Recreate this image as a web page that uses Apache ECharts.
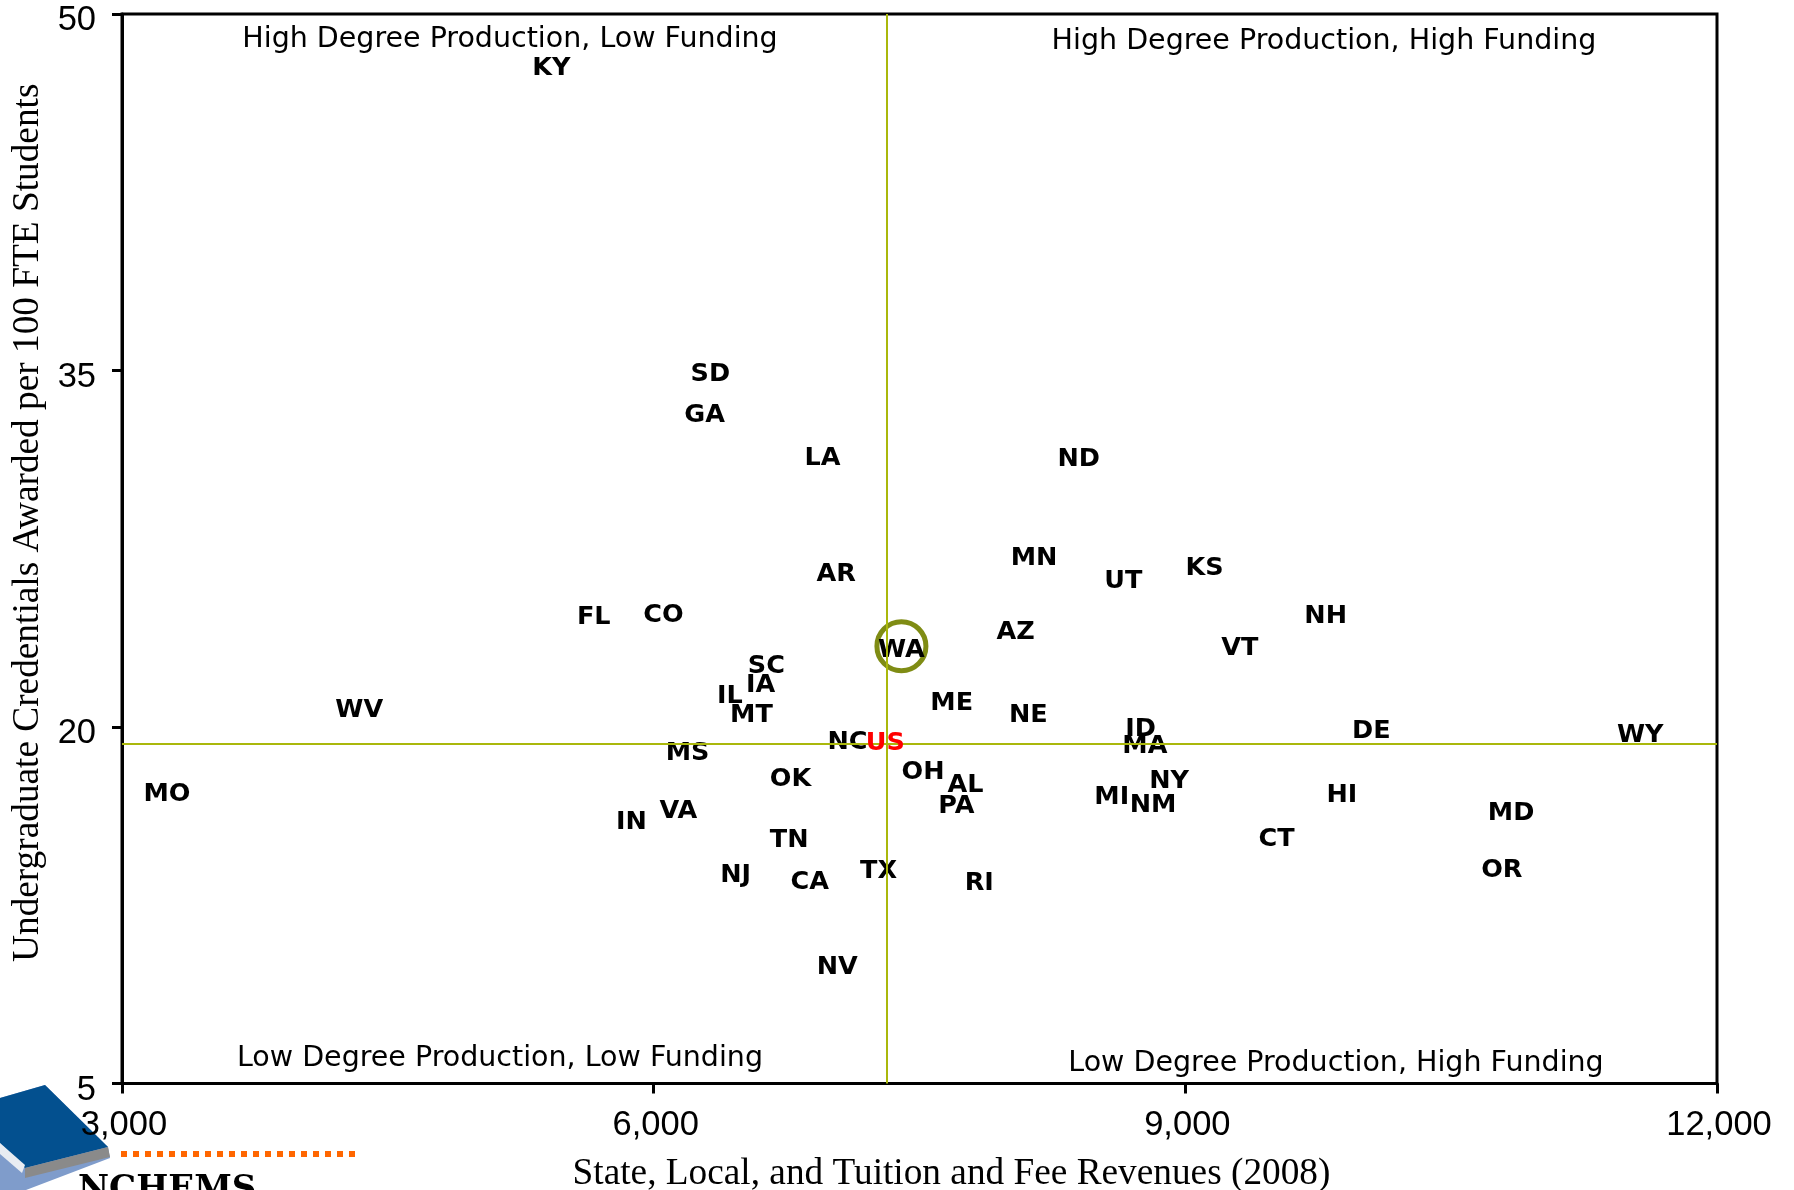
<!DOCTYPE html>
<html><head><meta charset="utf-8">
<style>html,body{margin:0;padding:0;background:#fff}#c{width:1794px;height:1190px}</style>
<script src="https://cdn.jsdelivr.net/npm/echarts@6/dist/echarts.min.js"></script>
</head><body><div id="c"></div>
<script>
const states=["KY","SD","GA","LA","ND","MN","KS","UT","AR","NH","FL","CO","AZ","VT","WA","SC","IA","IL","MT","ME","NE","WV","ID","DE","WY","MA","NC","MS","OK","OH","AL","NY","MO","MI","HI","PA","NM","VA","MD","IN","TN","CT","NJ","TX","OR","CA","RI","NV"];
const funding=[5423,6320,6288,6952,8398,8146,9108,8650,7030,9792,5662,6055,8043,9308,7398,6636,6604,6430,6552,7682,8114,4339,8747,10050,11567,8772,7094,6191,6772,7520,7759,8908,3254,8585,9883,7708,8818,6139,10838,5875,6765,9515,6462,7269,10786,6881,7837,7036];
const degrees=[47.8,34.94,33.21,31.38,31.33,27.19,26.76,26.23,26.52,24.74,24.69,24.78,24.06,23.39,23.29,22.62,21.85,21.37,20.59,21.08,20.59,20.79,19.97,19.92,19.73,19.25,19.44,18.96,17.9,18.19,17.61,17.8,17.27,17.13,17.22,16.74,16.79,16.55,16.45,16.07,15.3,15.35,13.85,14.0,14.05,13.56,13.52,9.95];
const usName="US", usFunding=7307, usDegrees=19.39;
const highlight=[7398,23.4];
const medianFunding=7314, medianDegrees=19.3;
const xTitle="State, Local, and Tuition and Fee Revenues (2008)";
const yTitle="Undergraduate Credentials Awarded per 100 FTE Students";
const quadrants=["High Degree Production, Low Funding","High Degree Production, High Funding","Low Degree Production, Low Funding","Low Degree Production, High Funding"];
const stateData=states.map((s,i)=>({name:s,value:[funding[i],degrees[i]]}));
const qText=(t,x,y)=>({type:'text',x:x,y:y,style:{text:t,align:'center',verticalAlign:'middle',fill:'#000',font:'28.5px "DejaVu Sans"'},z:5});
const chart=echarts.init(document.getElementById('c'),null,{renderer:'canvas'});
chart.setOption({
 animation:false,backgroundColor:'#fff',
 grid:{left:122,top:14,width:1595,height:1069.5,show:true,borderColor:'#000',borderWidth:3,backgroundColor:'transparent',outerBoundsMode:'none'},
 xAxis:{type:'value',min:3000,max:12000,interval:3000,
  name:xTitle,nameLocation:'middle',nameGap:72,
  nameTextStyle:{fontFamily:'"Liberation Serif"',fontSize:37.3,color:'#000',padding:[0,0,0,64]},
  axisLine:{show:true,onZero:false,lineStyle:{color:'#000',width:3}},
  axisTick:{show:true,length:10,lineStyle:{color:'#000',width:3}},
  axisLabel:{margin:24,color:'#000',fontFamily:'"Liberation Sans"',fontSize:34.5,padding:[0,0,0,4],formatter:v=>v.toLocaleString('en-US')},
  splitLine:{show:false}},
 yAxis:{type:'value',min:5,max:50,interval:15,
  name:yTitle,nameLocation:'middle',nameGap:74,
  nameTextStyle:{fontFamily:'"Liberation Serif"',fontSize:37.3,color:'#000',padding:[0,0,0,52]},
  axisLine:{show:true,onZero:false,lineStyle:{color:'#000',width:3}},
  axisTick:{show:true,length:10,lineStyle:{color:'#000',width:3}},
  axisLabel:{margin:26,color:'#000',fontFamily:'"Liberation Sans"',fontSize:34.5,verticalAlign:'top',lineHeight:13},
  splitLine:{show:false}},
 series:[
  {type:'scatter',name:'States',data:stateData,symbol:'circle',symbolSize:1,itemStyle:{color:'rgba(0,0,0,0)',opacity:1},z:4,
   label:{show:true,position:'inside',formatter:'{b}',color:'#000',opacity:1,fontFamily:'"DejaVu Sans"',fontWeight:'bold',fontSize:25.5},
   labelLayout:{hideOverlap:false,dy:2},
   markLine:{silent:true,symbol:'none',animation:false,label:{show:false},
    lineStyle:{color:'#aab80c',width:2,type:'solid',opacity:1},
    data:[{xAxis:medianFunding},{yAxis:medianDegrees}]}},
  {type:'scatter',name:usName,data:[{name:usName,value:[usFunding,usDegrees]}],symbolSize:1,itemStyle:{color:'rgba(0,0,0,0)',opacity:1},z:6,
   label:{show:true,position:'inside',offset:[0,2],formatter:'{b}',color:'#ff0000',opacity:1,fontFamily:'"DejaVu Sans"',fontWeight:'bold',fontSize:25.5}},
  {type:'scatter',name:'WA highlight',data:[highlight],symbol:'circle',symbolSize:49,z:3,
   itemStyle:{color:'rgba(0,0,0,0)',borderColor:'#7f8c14',borderWidth:5,opacity:1}}
 ],
 graphic:[
  qText(quadrants[0],510,40),qText(quadrants[1],1324,42),qText(quadrants[2],500,1059),qText(quadrants[3],1336,1064),
  {type:'polygon',shape:{points:[[0,1098],[45,1085],[108,1147],[110,1158],[26,1190],[0,1190]]},style:{fill:'#7f9ccb'},z:-4},
  {type:'polygon',shape:{points:[[0,1098],[45,1085],[108,1147],[25,1168],[0,1143]]},style:{fill:'#03508f'},z:-3},
  {type:'polygon',shape:{points:[[25,1168],[108,1147],[110,1157],[25,1178]]},style:{fill:'#8a8a8a'},z:-3},
  {type:'polygon',shape:{points:[[0,1143],[25,1165],[22,1173],[0,1154]]},style:{fill:'#e8ecf2'},z:-3},
  {type:'line',shape:{x1:121,y1:1154,x2:356,y2:1154},style:{stroke:'#ff6600',lineWidth:6,lineDash:[6,6]},z:2},
  {type:'text',x:78,y:1173,style:{text:'NCHEMS',fill:'#000',font:'bold 34px "DejaVu Serif"'},z:3}
 ]
});
</script></body></html>
